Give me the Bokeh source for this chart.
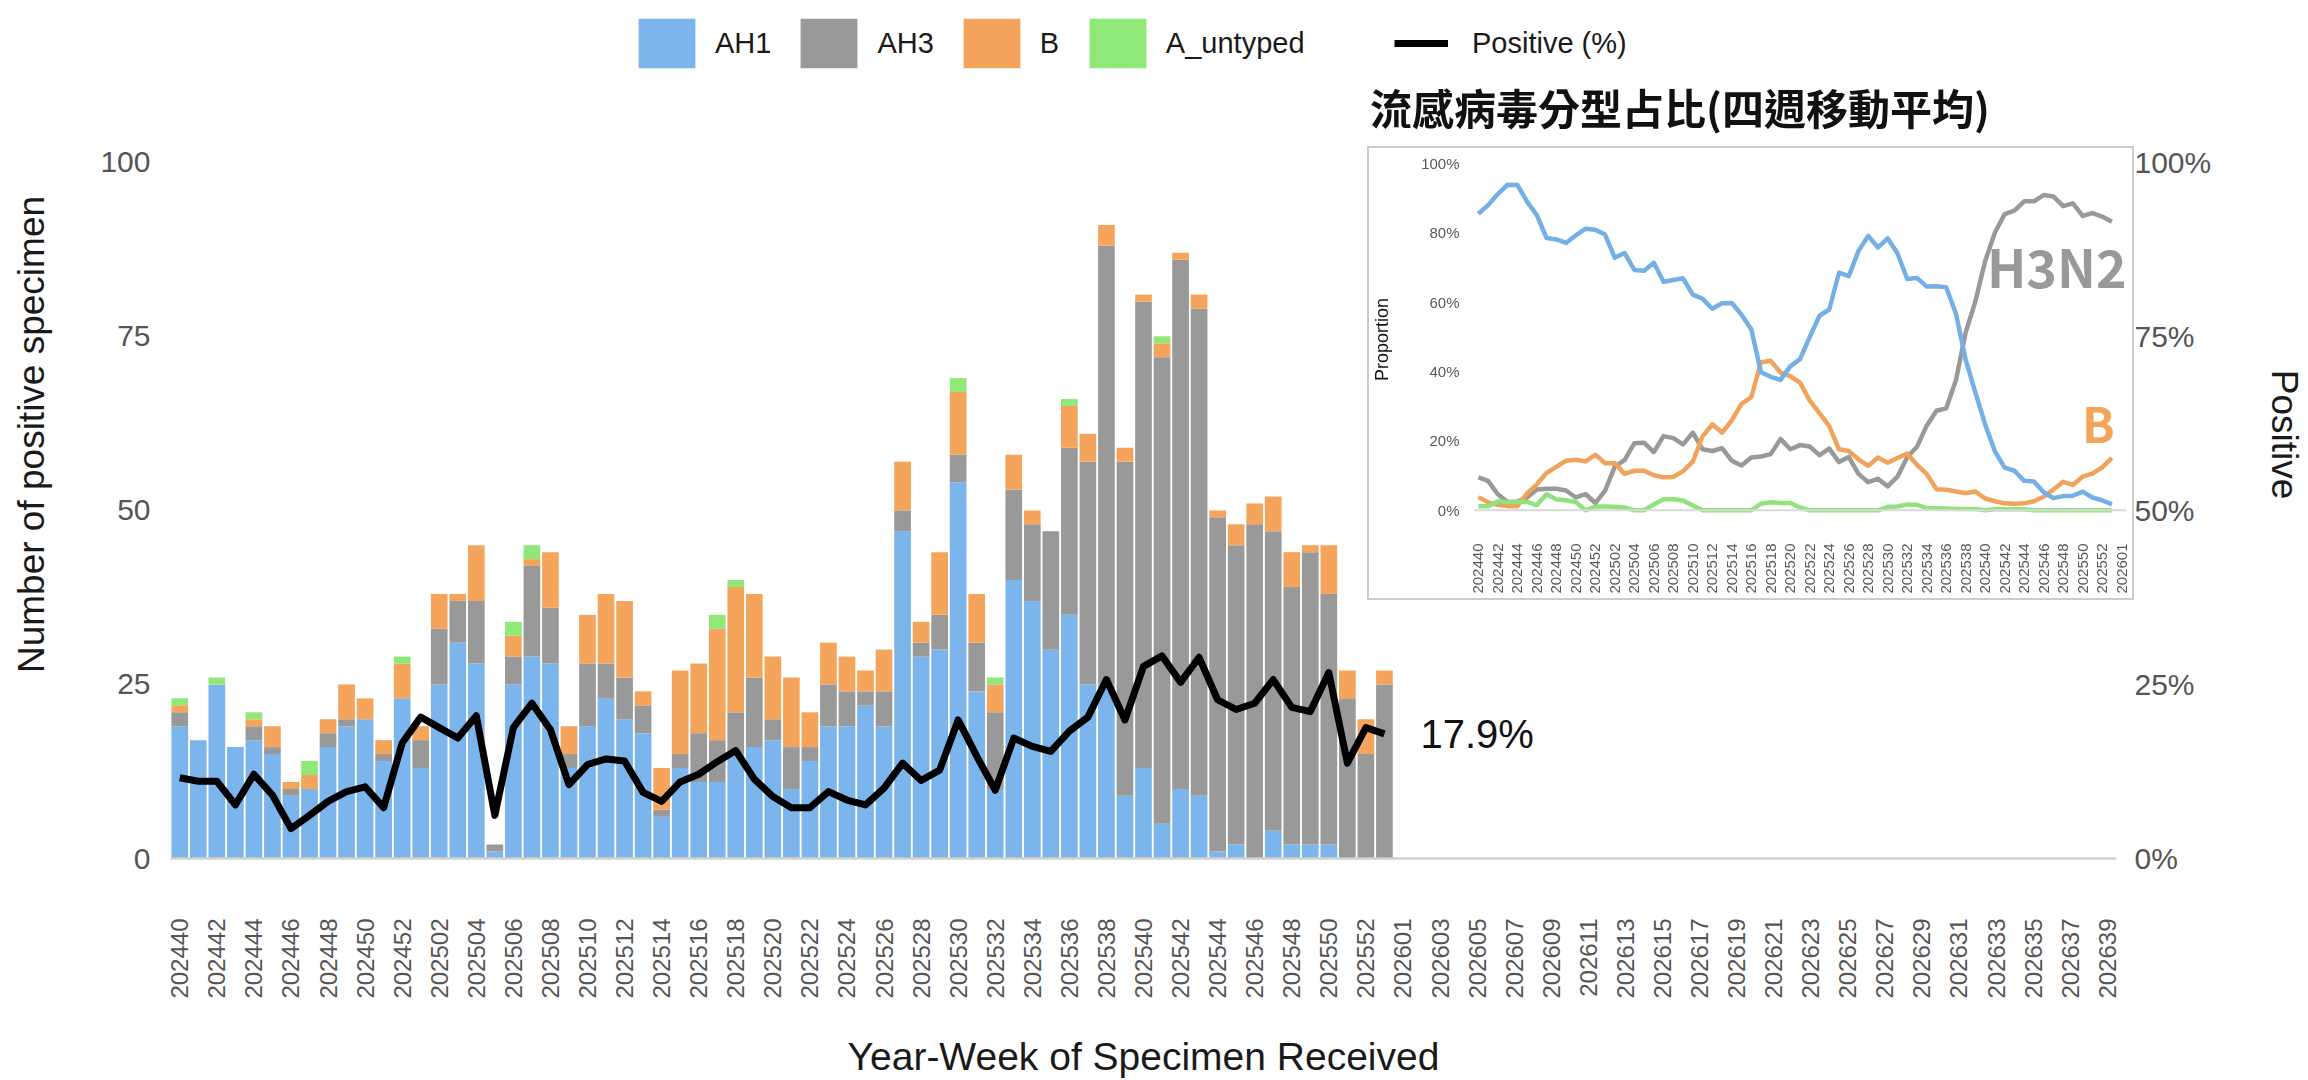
import math
from bokeh.plotting import figure
from bokeh.models import (ColumnDataSource, Range1d, LinearAxis, FixedTicker,
                          Legend, LegendItem, Span, Div)
from bokeh.core.properties import value
from bokeh.embed import file_html
from bokeh.resources import INLINE

# ---------------- data ----------------
WEEKS = ([f"2024{w:02d}" for w in range(40, 53)] +
         [f"2025{w:02d}" for w in range(1, 54)] +
         [f"2026{w:02d}" for w in range(1, 40)])
INSET_WEEKS = WEEKS[:67]

AH1 = [19, 17, 25, 16, 17, 15, 9, 10, 16, 19, 20, 14, 23, 13, 25, 31, 28, 1, 25, 29,
       28, 13, 19, 23, 20, 18, 6, 13, 11, 11, 15, 16, 17, 10, 14, 19, 19, 22, 19, 47,
       29, 30, 54, 24, 10, 40, 37, 30, 35, 25, 25, 9, 13, 5, 10, 9, 1, 2, 0, 4,
       2, 2, 2, 0, 0, 0]
AH3 = [2, 0, 0, 0, 2, 1, 1, 0, 2, 1, 0, 1, 0, 4, 8, 6, 9, 1, 4, 13,
       8, 2, 9, 5, 6, 4, 1, 2, 7, 6, 6, 10, 3, 6, 2, 6, 5, 2, 5, 3,
       2, 5, 4, 7, 11, 13, 11, 17, 24, 32, 63, 48, 67, 67, 76, 70, 48, 43, 48, 43,
       37, 42, 36, 23, 15, 25]
FLU_B = [1, 0, 0, 0, 1, 3, 1, 2, 2, 5, 3, 2, 5, 2, 5, 1, 8, 0, 3, 1,
         8, 4, 7, 10, 11, 2, 6, 12, 10, 16, 18, 12, 9, 10, 5, 6, 5, 3, 6, 7,
         3, 9, 9, 7, 4, 5, 2, 0, 6, 4, 3, 2, 1, 2, 1, 2, 1, 3, 3, 5,
         5, 1, 7, 4, 5, 2]
A_UNTYPED = [1, 0, 1, 0, 1, 0, 0, 2, 0, 0, 0, 0, 1, 0, 0, 0, 0, 0, 2, 2,
             0, 0, 0, 0, 0, 0, 0, 0, 0, 2, 1, 0, 0, 0, 0, 0, 0, 0, 0, 0,
             0, 0, 2, 0, 1, 0, 0, 0, 1, 0, 0, 0, 0, 1, 0, 0, 0, 0, 0, 0,
             0, 0, 0, 0, 0, 0]
POSITIVE = [11.6, 11.1, 11.1, 7.7, 12.1, 9.1, 4.3, 6.2, 8.2, 9.6,
            10.3, 7.3, 16.6, 20.3, 18.8, 17.3, 20.5, 6.2, 18.8, 22.3,
            18.5, 10.6, 13.5, 14.3, 14.0, 9.5, 8.2, 11.0, 12.1, 13.9,
            15.5, 11.4, 8.9, 7.3, 7.3, 9.6, 8.4, 7.7, 10.1, 13.7,
            11.2, 12.7, 19.9, 14.7, 9.8, 17.3, 16.1, 15.4, 18.3, 20.3,
            25.7, 19.9, 27.6, 29.1, 25.3, 28.9, 22.8, 21.4, 22.3, 25.7,
            21.7, 21.1, 26.7, 13.7, 18.8, 17.9]

# inset: 4-week moving proportion (%)
P_AH1 = [85.5, 88.0, 91.2, 93.9, 93.8, 89.0, 85.1, 78.5, 78.1, 77.1,
         79.3, 81.2, 80.9, 79.5, 72.8, 74.2, 69.3, 69.1, 71.4, 65.9,
         66.4, 66.9, 62.2, 61.0, 58.1, 59.7, 59.8, 56.4, 52.2, 39.8,
         38.5, 37.6, 41.5, 43.6, 50.0, 56.1, 57.9, 68.5, 67.5, 74.8,
         79.1, 75.8, 78.4, 74.1, 66.7, 67.0, 64.5, 64.6, 64.3, 56.7,
         43.4, 33.9, 24.7, 17.0, 12.3, 11.4, 8.5, 8.3, 5.2, 3.5,
         4.1, 4.2, 5.4, 3.7, 2.9, 1.7]
P_AH3 = [9.5, 8.5, 4.6, 2.4, 2.5, 3.7, 6.0, 6.2, 6.2, 5.7,
         3.7, 4.7, 2.1, 5.7, 12.6, 14.5, 19.3, 19.5, 16.8, 21.4,
         20.8, 19.0, 22.4, 17.6, 17.1, 17.9, 14.3, 12.9, 15.2, 15.5,
         16.2, 20.6, 17.6, 18.8, 18.4, 15.9, 17.8, 13.9, 15.4, 10.5,
         8.1, 9.1, 6.9, 9.7, 15.3, 18.3, 24.4, 28.7, 29.4, 37.5,
         51.3, 60.3, 71.9, 80.1, 85.4, 86.4, 89.1, 89.1, 90.9, 90.5,
         87.7, 88.5, 84.9, 85.7, 84.7, 83.2]
P_B = [3.8, 2.3, 1.6, 1.2, 1.2, 4.9, 7.5, 10.8, 12.5, 14.3,
       14.6, 14.1, 16.0, 13.6, 13.6, 10.5, 11.4, 11.4, 10.1, 9.5,
       9.6, 11.3, 14.0, 21.3, 24.8, 22.4, 25.9, 30.7, 32.6, 42.7,
       43.1, 39.7, 38.7, 36.8, 31.6, 28.0, 24.3, 17.6, 17.1, 14.7,
       12.8, 15.2, 13.7, 15.1, 16.4, 13.1, 10.5, 6.1, 5.9, 5.4,
       4.9, 5.4, 3.4, 2.6, 2.0, 1.9, 2.0, 2.6, 3.9, 6.0,
       8.2, 7.3, 9.7, 10.6, 12.4, 15.1]
P_UNTYPED = [1.2, 1.2, 2.6, 2.4, 2.5, 2.4, 1.5, 4.6, 3.1, 2.9,
             2.4, 0.0, 1.1, 1.1, 1.0, 0.8, 0.0, 0.0, 1.7, 3.2,
             3.2, 2.8, 1.4, 0.0, 0.0, 0.0, 0.0, 0.0, 0.0, 1.9,
             2.3, 2.1, 2.1, 0.8, 0.0, 0.0, 0.0, 0.0, 0.0, 0.0,
             0.0, 0.0, 1.0, 1.1, 1.7, 1.6, 0.6, 0.6, 0.5, 0.4,
             0.4, 0.4, 0.0, 0.3, 0.3, 0.3, 0.3, 0.0, 0.0, 0.0,
             0.0, 0.0, 0.0, 0.0, 0.0, 0.0]

SERIES = ["AH1", "AH3", "B", "A_untyped"]
COLORS = ["#7cb5ec", "#999999", "#f4a55b", "#90e879"]
INSET_COLORS = ["#74b0e6", "#999999", "#f1a35c", "#90e27f"]
LEFT_TICKS = [0, 25, 50, 75, 100]
INSET_TICKS = [0, 20, 40, 60, 80, 100]
INSET_TITLE = "流感病毒分型占比(四週移動平均)"

FONT = "Liberation Sans"
CJK = "Noto Sans CJK TC"
n = len(AH1)
X_ALL = list(range(len(WEEKS)))
X_BARS = X_ALL[:n]
X_TICKS = X_ALL[::2]
IX_TICKS = list(range(len(INSET_WEEKS)))[::2]

# ---------------- main figure ----------------
p = figure(x_range=Range1d(-0.5, len(WEEKS) - 0.5), y_range=Range1d(0, 121.8),
           frame_width=1946, frame_height=848,
           min_border_left=170, min_border_right=189, min_border_top=10, min_border_bottom=219,
           output_backend="svg", toolbar_location=None,
           background_fill_color="white", border_fill_color="white", outline_line_color=None)
p.extra_y_ranges = {"pct": Range1d(0, 121.8)}

src = ColumnDataSource(dict(x=X_BARS, AH1=AH1, AH3=AH3, B=FLU_B, A_untyped=A_UNTYPED))
bars = p.vbar_stack(SERIES, x="x", width=0.9, source=src, fill_color=COLORS, line_color=None)
line = p.line(X_BARS, POSITIVE, y_range_name="pct", line_width=7, line_color="black",
              line_join="round")
p.text(x=[X_BARS[-1]], y=[POSITIVE[-1]], text=[f"{POSITIVE[-1]}%"], y_range_name="pct",
       x_offset=36, text_baseline="middle", text_align="left",
       text_font=value(FONT), text_font_size="40px", text_color="#111111")

p.xgrid.visible = False
p.ygrid.visible = False

xa = p.xaxis[0]
xa.ticker = FixedTicker(ticks=X_TICKS)
xa.major_label_overrides = {i: WEEKS[i] for i in X_TICKS}
xa.major_label_orientation = math.pi / 2
xa.major_label_text_font = FONT
xa.major_label_text_font_size = "24px"
xa.major_label_text_color = "#555555"
xa.major_label_standoff = 54
xa.major_tick_line_color = None
xa.minor_tick_line_color = None
xa.axis_line_color = "#d0d0d0"
xa.axis_line_width = 2.5
xa.axis_label = "Year-Week of Specimen Received"
xa.axis_label_text_font = FONT
xa.axis_label_text_font_size = "39px"
xa.axis_label_text_font_style = "normal"
xa.axis_label_text_color = "#1a1a1a"
xa.axis_label_standoff = 33

ya = p.yaxis[0]
ya.ticker = FixedTicker(ticks=LEFT_TICKS)
ya.major_label_text_font = FONT
ya.major_label_text_font_size = "30px"
ya.major_label_text_color = "#555555"
ya.major_label_standoff = 14
ya.major_tick_line_color = None
ya.minor_tick_line_color = None
ya.axis_line_color = None
ya.axis_label = "Number of positive specimen"
ya.axis_label_text_font = FONT
ya.axis_label_text_font_size = "37px"
ya.axis_label_text_font_style = "normal"
ya.axis_label_text_color = "#1a1a1a"
ya.axis_label_standoff = 45

ra = LinearAxis(y_range_name="pct", ticker=FixedTicker(ticks=LEFT_TICKS),
                major_label_overrides={t: f"{t}%" for t in LEFT_TICKS})
ra.major_label_text_font = FONT
ra.major_label_text_font_size = "30px"
ra.major_label_text_color = "#555555"
ra.major_label_standoff = 18
ra.major_tick_out = 0
ra.major_tick_line_color = None
ra.minor_tick_line_color = None
ra.axis_line_color = None
ra.axis_label = "Positive"
ra.axis_label_text_font = FONT
ra.axis_label_text_font_size = "37px"
ra.axis_label_text_font_style = "normal"
ra.axis_label_text_color = "#1a1a1a"
ra.axis_label_standoff = 50
p.add_layout(ra, "right")

# area legend glyphs are drawn at 80% of the glyph box
leg_common = dict(orientation="horizontal", padding=0, margin=0, border_line_color=None,
                  background_fill_alpha=0, label_text_font=FONT, label_text_font_size="29px",
                  label_text_color="#1a1a1a", glyph_height=62)
leg1 = Legend(items=[LegendItem(label=s, renderers=[r]) for s, r in zip(SERIES, bars)],
              location=(461, 784), glyph_width=71, label_standoff=13, spacing=22, **leg_common)
leg2 = Legend(items=[LegendItem(label="Positive (%)", renderers=[line])],
              location=(1224, 784), glyph_width=54, label_standoff=24, **leg_common)
p.add_layout(leg1)
p.add_layout(leg2)

# ---------------- inset ----------------
q = figure(x_range=Range1d(-0.5, len(INSET_WEEKS) - 0.5), y_range=Range1d(-1.5, 100),
           frame_width=653, frame_height=352,
           min_border_left=98, min_border_right=6, min_border_top=15, min_border_bottom=83,
           output_backend="svg", toolbar_location=None,
           background_fill_color="white", border_fill_color="white", outline_line_color=None,
           styles={"position": "fixed", "left": "1369px", "top": "148px", "z-index": "10",
                   "outline": "2px solid #cccccc"})
q.xgrid.visible = False
q.ygrid.visible = False
q.add_layout(Span(location=0, dimension="width", line_color="#d9d9d9", line_width=2))
IX = list(range(len(P_AH1)))
for vals, c in zip([P_AH3, P_B, P_AH1, P_UNTYPED],
                   [INSET_COLORS[1], INSET_COLORS[2], INSET_COLORS[0], INSET_COLORS[3]]):
    q.line(IX, vals, line_width=4.5, line_color=c, line_join="round")

q.text(x=[len(INSET_WEEKS) - 1], y=[70.6], text=["H3N2"], x_offset=5, text_align="right",
       text_baseline="middle", text_font=value(CJK), text_font_style="bold",
       text_font_size="52px", text_color="#999999")
q.text(x=[len(INSET_WEEKS) - 1], y=[25.4], text=["B"], x_offset=-7, text_align="right",
       text_baseline="middle", text_font=value(CJK), text_font_style="bold",
       text_font_size="48px", text_color="#f4a55b")

qx = q.xaxis[0]
qx.ticker = FixedTicker(ticks=IX_TICKS)
qx.major_label_overrides = {i: INSET_WEEKS[i] for i in IX_TICKS}
qx.major_label_orientation = math.pi / 2
qx.major_label_text_font = FONT
qx.major_label_text_font_size = "15px"
qx.major_label_text_color = "#595959"
qx.major_label_standoff = 22
qx.major_tick_line_color = None
qx.minor_tick_line_color = None
qx.axis_line_color = None

qy = q.yaxis[0]
qy.ticker = FixedTicker(ticks=INSET_TICKS)
qy.major_label_overrides = {t: f"{t}%" for t in INSET_TICKS}
qy.major_label_text_font = FONT
qy.major_label_text_font_size = "15px"
qy.major_label_text_color = "#595959"
qy.major_label_standoff = 8
qy.major_tick_line_color = None
qy.minor_tick_line_color = None
qy.axis_line_color = None
qy.axis_label = "Proportion"
qy.axis_label_text_font = FONT
qy.axis_label_text_font_size = "18px"
qy.axis_label_text_font_style = "normal"
qy.axis_label_text_color = "#111111"
qy.axis_label_standoff = 26

title = Div(text=INSET_TITLE, width=760, height=50,
            styles={"position": "fixed", "left": "1365px", "top": "77px", "z-index": "10",
                    "font-family": f"'{CJK}'", "font-size": "42px", "font-weight": "bold",
                    "line-height": "50px", "color": "#111111", "white-space": "nowrap"})

open("out.html", "w").write(file_html([p, title, q], INLINE))
